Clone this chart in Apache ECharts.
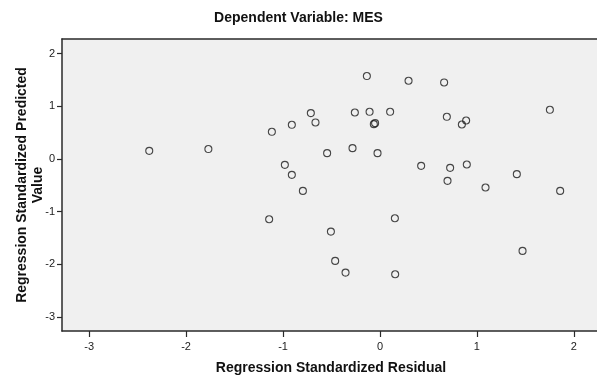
<!DOCTYPE html>
<html>
<head>
<meta charset="utf-8">
<script src="https://cdn.jsdelivr.net/npm/echarts@6/dist/echarts.min.js"></script>
<style>
  html, body { margin: 0; padding: 0; background: #ffffff; }
  #chart { width: 597px; height: 384px; }
</style>
</head>
<body>
<div id="chart"></div>
<script>
// Standardized residual (x) vs standardized predicted value (y)
const residuals = [
  -2.38, -1.77, -0.135, 0.295, -0.713, -0.259, -0.107, 0.105, -0.665, -0.909,
  -1.115, -0.063, -0.05, -0.545, -0.283, -0.025, -0.981, -0.909, 0.662, 1.753,
  0.69, 0.889, 0.845, 0.425, 0.724, 0.896, 1.412, 0.697, 1.089, 1.859,
  1.471, -0.795, -1.143, 0.154, -0.506, -0.462, -0.355, 0.157
];
const predicted = [
  0.156, 0.19, 1.576, 1.487, 0.873, 0.884, 0.897, 0.897, 0.695, 0.65,
  0.517, 0.663, 0.682, 0.112, 0.207, 0.112, -0.11, -0.30, 1.455, 0.935,
  0.802, 0.732, 0.656, -0.129, -0.167, -0.104, -0.287, -0.414, -0.54, -0.605,
  -1.745, -0.605, -1.143, -1.124, -1.378, -1.935, -2.157, -2.188
];
const xTicks = [-3, -2, -1, 0, 1, 2];
const yTicks = [-3, -2, -1, 0, 1, 2];

const points = residuals.map((r, i) => [r, predicted[i]]);

const FONT = '"Liberation Sans", Arial, sans-serif';
const LINE = '#2a2a2a';

const chart = echarts.init(document.getElementById('chart'), null, { renderer: 'canvas' });
chart.setOption({
  animation: false,
  backgroundColor: '#ffffff',
  title: {
    text: 'Dependent Variable: MES',
    left: 'center',
    top: 6,
    textStyle: { fontFamily: FONT, fontSize: 14, fontWeight: 'bold', color: '#111' }
  },
  grid: {
    left: 62, right: -3, top: 39, bottom: 53,
    outerBoundsMode: 'none',
    containLabel: false,
    show: true, backgroundColor: '#f0f0f0', borderWidth: 0
  },
  xAxis: [{
    type: 'value',
    min: -3.28, max: 2.27,
    name: 'Regression Standardized Residual',
    nameLocation: 'middle',
    nameGap: 30,
    nameMoveOverlap: false,
    nameTextStyle: { fontFamily: FONT, fontSize: 14, fontWeight: 'bold', color: '#111' },
    axisLine: { show: true, onZero: false, lineStyle: { color: LINE, width: 1.5 } },
    axisTick: { show: true, length: 6, customValues: xTicks, lineStyle: { color: LINE, width: 1.2 } },
    axisLabel: { customValues: xTicks, margin: 10, fontFamily: FONT, fontSize: 11, color: '#222' },
    splitLine: { show: false }
  }, {
    type: 'value',
    position: 'top',
    min: -3.28, max: 2.27,
    axisLine: { show: true, onZero: false, lineStyle: { color: LINE, width: 1.5 } },
    axisTick: { show: false },
    axisLabel: { show: false },
    splitLine: { show: false }
  }],
  yAxis: {
    type: 'value',
    min: -3.266, max: 2.28,
    name: 'Regression Standardized Predicted\nValue',
    nameLocation: 'middle',
    nameGap: 16,
    nameMoveOverlap: false,
    nameRotate: 90,
    nameTextStyle: { fontFamily: FONT, fontSize: 14, fontWeight: 'bold', color: '#111', lineHeight: 16 },
    axisLine: { show: true, onZero: false, lineStyle: { color: LINE, width: 1.5 } },
    axisTick: { show: true, length: 5, customValues: yTicks, lineStyle: { color: LINE, width: 1.2 } },
    axisLabel: { customValues: yTicks, margin: 7, fontFamily: FONT, fontSize: 11, color: '#222' },
    splitLine: { show: false }
  },
  series: [{
    type: 'scatter',
    xAxisIndex: 0,
    data: points,
    symbol: 'circle',
    symbolSize: 7,
    itemStyle: { color: 'rgba(0,0,0,0)', borderColor: '#1a1a1a', borderWidth: 1.1 }
  }]
});
</script>
</body>
</html>
